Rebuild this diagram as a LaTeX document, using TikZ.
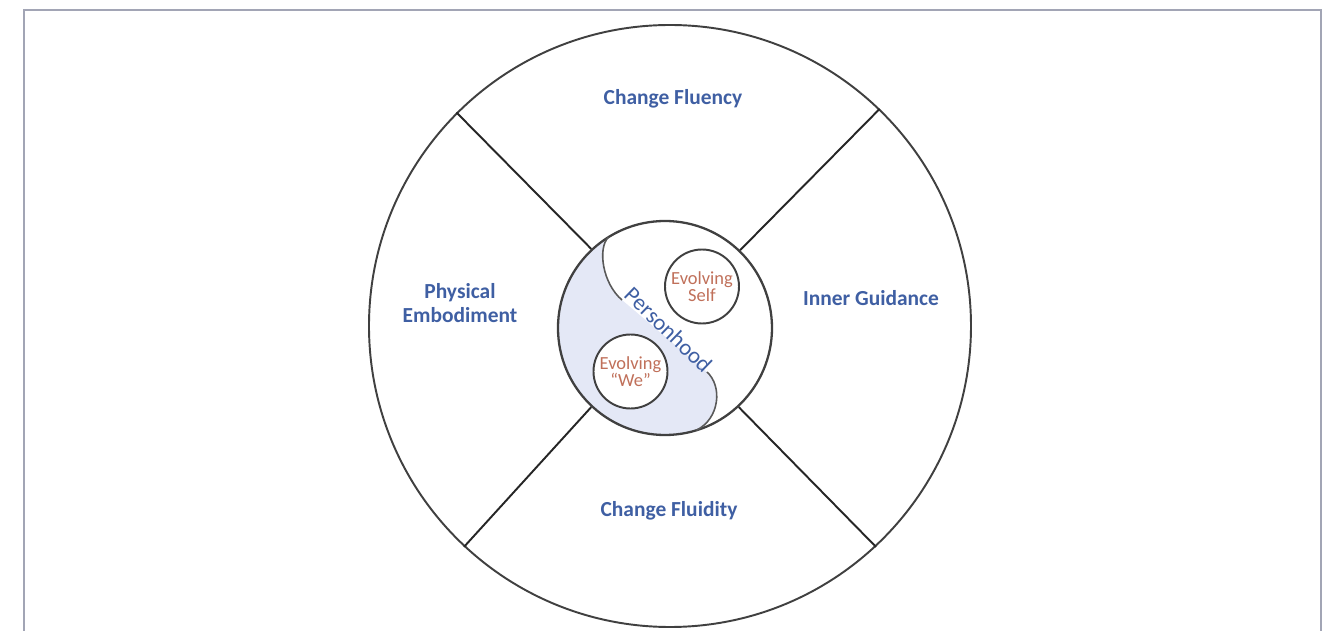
\documentclass[tikz,border=0pt]{standalone}
\usepackage{fontspec}
\setmainfont{Carlito}
\definecolor{labelblue}{HTML}{3F5FA3}
\definecolor{innerred}{HTML}{C0705A}
\definecolor{hubblue}{HTML}{E4E8F6}
\definecolor{framegray}{HTML}{A2A5B5}
\begin{document}
\begin{tikzpicture}[line width=1.1pt,
		ring/.style = {draw=black!75, circle, inner sep=0pt},
		label/.style = {text=labelblue, font=\fontsize{12.2}{13.6}\selectfont\bfseries, align=center},
		small/.style = {ring, fill=white, minimum size=1.48cm, text=innerred, font=\fontsize{10.5}{9.6}\selectfont, align=center}]
		\clip (-13.4,-6.1) rectangle (13.18,6.52);
		%Frame round the page
		\draw[framegray] (-12.92,-7) -- (-12.92,6.32) -- (13.02,6.32) -- (13.02,-7);
		
		%Outer wheel
		\node[ring, minimum size=12.04cm] (1) at (0,0) {};
		
		%Shaded half of the hub
		\coordinate (a) at (-1.234,1.775);
		\coordinate (b) at (-0.96,0.52);
		\coordinate (c) at (0.74,-0.92);
		\coordinate (d) at (0.526,-2.086);
		\fill[hubblue] (a) .. controls (-1.45,1.55) and (-1.35,0.85) .. (b) -- (c)
			.. controls (1.05,-1.2) and (1.0,-1.85) .. (d)
			arc[start angle=-73, end angle=-238, radius=2.14] -- cycle;
		
		%Hub
		\node[ring, line width=1.3pt, minimum size=4.28cm] (2) at (-0.1,-0.04) {};
		\draw[black!65, line width=0.9pt] (a) .. controls (-1.45,1.55) and (-1.35,0.85) .. (b);
		\draw[black!65, line width=0.9pt] (c) .. controls (1.05,-1.2) and (1.0,-1.85) .. (d);
		
		%Spokes
		\draw[black!85] (1.135) -- (2.133);
		\draw[black!85] (1.46.5) -- (2.46);
		\draw[black!85] (1.227) -- (2.227.5);
		\draw[black!85] (1.-47) -- (2.-47.5);
		
		%Sector labels
		\node[label] (3) at (0.06,4.54) {Change Fluency};
		\node[label] (4) at (-4.2,0.46) {Physical\\Embodiment};
		\node[label] (5) at (4.02,0.56) {Inner Guidance};
		\node[label] (6) at (-0.02,-3.7) {Change Fluidity};
		
		%Inner circles
		\node[small] (7) at (0.64,0.79) {Evolving\\Self};
		\node[small] (8) at (-0.79,-0.91) {Evolving\\``We''};
		\node[text=labelblue, rotate=-44, font=\fontsize{13}{13}\selectfont] (9) at (-0.03,-0.08) {Personhood};
	\end{tikzpicture}
\end{document}
